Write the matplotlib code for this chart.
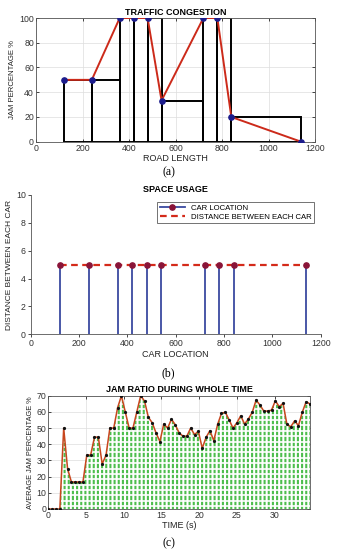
import numpy as np
import matplotlib
matplotlib.use("Agg")
import matplotlib.pyplot as plt
from matplotlib.lines import Line2D

plt.rcParams['font.family'] = ['Liberation Sans', 'DejaVu Sans']
plt.rcParams['hatch.linewidth'] = 1.5

# (a) traffic congestion
car_pos = [120, 240, 360, 420, 480, 540, 720, 780, 840, 1140]
jam_pct = [50, 50, 100, 100, 100, 33.3, 100, 100, 20, 0]

# (b) space usage
car_gap = [5, 5, 5, 5, 5, 5, 5, 5, 5, 5]

# (c) jam ratio over time
jam_ratio = [0, 0, 0, 0, 50, 25, 16.7, 16.7, 16.7, 16.7, 33.3, 33.3, 44.4, 44.4,
             27.8, 33.3, 50, 50, 62.5, 70, 60, 50, 50, 60, 70, 66.7, 56.7, 53.3,
             47, 41.7, 52.5, 50, 55.5, 52, 47, 45, 45, 50, 46, 48, 37.5, 44.3,
             48.4, 42.2, 52.3, 59.1, 59.8, 55, 50, 53.3, 57.6, 52.5, 55.6, 59.8,
             67.3, 64.2, 60.5, 60.5, 61.1, 66.9, 63.2, 65.3, 52.3, 50.8, 54.5,
             51.5, 59.8, 66.3, 64.9]
time_s = np.arange(len(jam_ratio)) * 0.51

W, H = 337, 550
fig = plt.figure(figsize=(W / 100, H / 100), dpi=100)


def px_axes(l, t, r, b):
    return fig.add_axes([l / W, 1 - b / H, (r - l) / W, (b - t) / H])


tick_kw = dict(labelsize=6.3, labelcolor='#333333', length=2, width=0.5,
               pad=1.5, direction='in', top=True, right=True)
lab_kw = dict(fontsize=6.5, color='#222222')
ylab_kw = dict(fontsize=5.6, color='#222222')
title_kw = dict(fontsize=6.5, fontweight='bold', pad=2.5)

# ---- chart (a)
ax1 = px_axes(36, 18, 315, 141.7)
widths = np.diff(car_pos)
ax1.bar(car_pos[:-1], jam_pct[:-1], width=widths, align='edge', fill=False,
        edgecolor='black', linewidth=1.4, zorder=2)
ax1.plot(car_pos, jam_pct, color='#cc2a1a', lw=1.4, zorder=3)
ax1.plot(car_pos, jam_pct, 'o', color='#1c1c8c', ms=3.8, zorder=4)
ax1.set_xlim(0, 1200)
ax1.set_ylim(0, 100)
ax1.set_xticks(range(0, 1201, 200))
ax1.set_yticks(range(0, 101, 20))
ax1.grid(True, color='#dddddd', lw=0.5)
ax1.set_axisbelow(True)
ax1.tick_params(**tick_kw)
ax1.set_title("TRAFFIC CONGESTION", **title_kw)
ax1.set_xlabel("ROAD LENGTH", labelpad=1, **lab_kw)
ax1.set_ylabel("JAM PERCENTAGE %", labelpad=2, **ylab_kw)
for s in ax1.spines.values():
    s.set_linewidth(0.6)
    s.set_color('#555555')

# ---- chart (b)
ax2 = px_axes(30.7, 195, 320.7, 334.3)
ax2.plot(car_pos, car_gap, '--', color='#d42a1a', lw=1.6, dashes=(3, 2), zorder=2)
ml, sl, bl = ax2.stem(car_pos, car_gap, linefmt='-', basefmt=' ')
sl.set_color('#3a4aa0')
sl.set_linewidth(1.3)
ml.set_color('#8a1438')
ml.set_markersize(3.8)
ml.set_zorder(3)
ax2.set_xlim(0, 1200)
ax2.set_ylim(0, 10)
ax2.set_xticks(range(0, 1201, 200))
ax2.set_yticks(range(0, 11, 2))
ax2.spines['top'].set_visible(False)
ax2.spines['right'].set_visible(False)
for s in ('left', 'bottom'):
    ax2.spines[s].set_linewidth(0.6)
    ax2.spines[s].set_color('#555555')
ax2.tick_params(**dict(tick_kw, top=False, right=False, direction='out'))
ax2.set_title("SPACE USAGE", **title_kw)
ax2.set_xlabel("CAR LOCATION", labelpad=1, **lab_kw)
ax2.set_ylabel("DISTANCE BETWEEN EACH CAR", labelpad=2, **dict(ylab_kw, fontsize=6))
handles = [Line2D([], [], color='#3a4aa0', lw=1.3, marker='o', ms=3.8,
                  markerfacecolor='#8a1438', markeredgecolor='#8a1438'),
           Line2D([], [], color='#d42a1a', lw=1.6, ls='--', dashes=(3, 2))]
leg = ax2.legend(handles, ['CAR LOCATION', 'DISTANCE BETWEEN EACH CAR'],
                 loc='upper right', fontsize=5.6, frameon=True, fancybox=False,
                 edgecolor='#333333', borderpad=0.3, handlelength=3.2,
                 labelspacing=0.2, bbox_to_anchor=(0.99, 0.975))
leg.get_frame().set_linewidth(0.6)

# ---- chart (c)
ax3 = px_axes(48.3, 395.7, 310, 509)
fill = ax3.fill_between(time_s, jam_ratio, 0, facecolor='white',
                        edgecolor='#4cbd4c', hatch='||||', linewidth=0, zorder=1)
clip_path = fill.get_paths()[0]
gaps = ax3.hlines(np.arange(1.7, 70, 3.33), 0, 35, colors='white', lw=1.2, zorder=1.5)
gaps.set_clip_path(clip_path, ax3.transData)
ax3.plot(time_s, jam_ratio, color='#c8461e', lw=1.1, zorder=3)
ax3.plot(time_s, jam_ratio, 'o', color='#111111', ms=1.3, zorder=4)
ax3.set_xlim(0, time_s[-1])
ax3.set_ylim(0, 70)
ax3.set_xticks(range(0, 31, 5))
ax3.set_yticks(range(0, 71, 10))
ax3.grid(True, color='#dddddd', lw=0.5)
ax3.set_axisbelow(True)
ax3.tick_params(**tick_kw)
ax3.set_title("JAM RATIO DURING WHOLE TIME", **title_kw)
ax3.set_xlabel("TIME (s)", labelpad=1, **lab_kw)
ax3.set_ylabel("AVERAGE JAM PERCENTAGE %", labelpad=2, **dict(ylab_kw, fontsize=5.3))
for s in ax3.spines.values():
    s.set_linewidth(0.6)
    s.set_color('#555555')

# captions
for y, txt in [(172, "(a)"), (373, "(b)"), (543, "(c)")]:
    fig.text(168.5 / W, 1 - y / H, txt, ha='center', va='center',
             fontsize=8.5, family='Liberation Serif')

fig.savefig("out.png", dpi=100)
